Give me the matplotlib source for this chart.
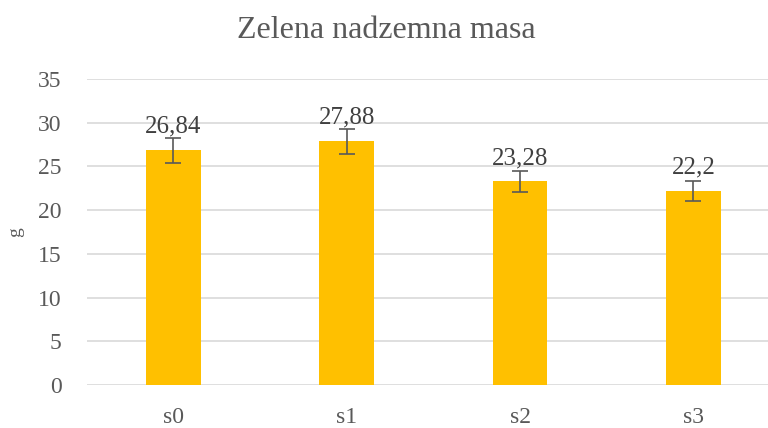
import matplotlib.pyplot as plt

categories = ["s0", "s1", "s2", "s3"]
values = [26.84, 27.88, 23.28, 22.2]
errors = [1.4, 1.45, 1.2, 1.15]
y_ticks = [0, 5, 10, 15, 20, 25, 30, 35]

plt.rcParams["font.family"] = ["Liberation Serif", "DejaVu Serif"]
text_color = "#595959"

fig = plt.figure(figsize=(7.68, 4.28), dpi=100)
ax = fig.add_axes([0.1129, 0.1005, 0.8871, 0.7149])

x = list(range(len(categories)))
ax.bar(x, values, width=0.316, color="#FFC000", zorder=2)
ax.errorbar(x, values, yerr=errors, fmt="none", ecolor="#595959",
            elinewidth=1.2, capsize=6, capthick=1.2, zorder=3)

# value labels, decimal comma like the original
for xi, v in zip(x, values):
    label = f"{v:g}".replace(".", ",")
    ax.annotate(label, (xi, v), xytext=(0, 12.6), textcoords="offset points",
                ha="center", va="baseline", fontsize=18, color="#404040")

ax.set_xlim(-0.5, 3.43)
ax.set_ylim(0, 35)
ax.set_yticks(y_ticks)
ax.set_xticks(x)
ax.set_xticklabels(categories)
ax.tick_params(axis="both", length=0, labelsize=17, labelcolor=text_color)
ax.tick_params(axis="y", pad=18)
ax.tick_params(axis="x", pad=16)
ax.yaxis.grid(True, color="#D9D9D9", linewidth=1.2, zorder=0)
ax.set_axisbelow(True)
for s in ax.spines.values():
    s.set_visible(False)

ax.set_ylabel("g", fontsize=14, color=text_color, labelpad=10)
fig.text(0.503, 0.928, "Zelena nadzemna masa", ha="center", va="center",
         fontsize=23, color=text_color)

fig.savefig("out.png", dpi=100)
